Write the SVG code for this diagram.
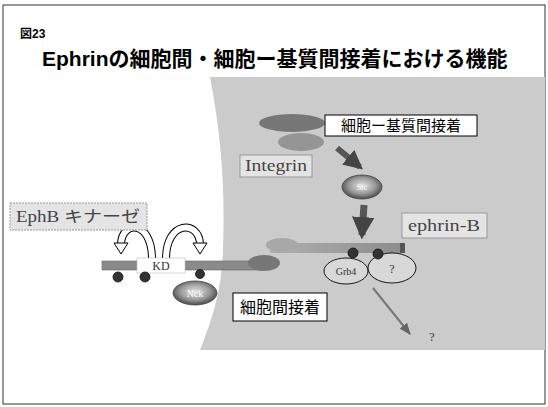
<svg xmlns="http://www.w3.org/2000/svg" width="548" height="407" viewBox="0 0 548 407">
  <defs>
    <radialGradient id="ballGrad" cx="50%" cy="45%" r="55%">
      <stop offset="0" stop-color="#e6e6e6"/>
      <stop offset="0.6" stop-color="#9a9a9a"/>
      <stop offset="1" stop-color="#4a4a4a"/>
    </radialGradient>
    <linearGradient id="ephrinBar" x1="0" y1="0" x2="1" y2="0">
      <stop offset="0" stop-color="#b0b0b0"/>
      <stop offset="1" stop-color="#8c8c8c"/>
    </linearGradient>
    <marker id="headDark" viewBox="0 0 10 10" refX="8" refY="5" markerWidth="3.2" markerHeight="3.2" orient="auto">
      <path d="M0,0 L10,5 L0,10 z" fill="#444"/>
    </marker>
    <marker id="headThin" viewBox="0 0 10 10" refX="9" refY="5" markerWidth="6" markerHeight="6" orient="auto">
      <path d="M0,1 L10,5 L0,9 z" fill="#666"/>
    </marker>
  </defs>
  <style>
    .jp { font-family: "Noto Sans CJK JP", "Noto Sans", sans-serif; }
    .title { font-family: "Liberation Sans", "Noto Sans CJK JP", sans-serif; font-weight: bold; fill: #000; }
    .serif { font-family: "Liberation Serif", "Noto Sans CJK JP", serif; fill: #444; }
    .box { fill: #fff; stroke: #000; stroke-width: 1; }
    .softbox { fill: #e4e4e4; stroke: #999; stroke-width: 1; }
    .dot { fill: #333; stroke: #111; stroke-width: 0.8; }
    .plain { fill: #d8d8d8; stroke: #000; stroke-width: 0.9; }
    .arch-out { fill: none; stroke: #000; stroke-width: 8; }
    .arch-in { fill: none; stroke: #fff; stroke-width: 6; }
    .arch-head { fill: #fff; stroke: #000; stroke-width: 1; }
  </style>

  <rect width="548" height="407" fill="#fff"/>
  <rect x="3" y="5" width="542" height="399" fill="none" stroke="#333" stroke-width="1"/>

  <!-- grey extracellular / cell region -->
  <path d="M210,77 L545,77 L545,350 L200,350 C212,320 222,290 223,250 C225,190 222,140 210,77 z" fill="#cbcbcb"/>

  <!-- headings -->
  <text class="title" x="20" y="38" font-size="12">図23</text>
  <text class="title" x="42" y="66" font-size="21">Ephrinの細胞間・細胞ー基質間接着における機能</text>

  <!-- connectors -->
  <g id="connectors">
    <line x1="337" y1="148" x2="360" y2="167" stroke="#555" stroke-width="6" marker-end="url(#headDark)"/>
    <line x1="364" y1="205" x2="362" y2="235" stroke="#555" stroke-width="7" marker-end="url(#headDark)"/>
    <line x1="373" y1="288" x2="410" y2="334" stroke="#777" stroke-width="2" marker-end="url(#headThin)"/>
    <!-- autophosphorylation arches -->
    <path class="arch-out" d="M152,259 C152,220 122,220 121,244"/>
    <path class="arch-in" d="M152,259 C152,220 122,220 121,244"/>
    <polygon class="arch-head" points="114,243 128,243 121,254"/>
    <path class="arch-out" d="M166,259 C166,220 199,220 200,244"/>
    <path class="arch-in" d="M166,259 C166,220 199,220 200,244"/>
    <polygon class="arch-head" points="193,243 207,243 200,254"/>
  </g>

  <!-- integrin -->
  <g id="integrin">
    <ellipse cx="292" cy="123" rx="33" ry="9" fill="#777"/>
    <ellipse cx="301" cy="142" rx="23" ry="9" fill="#959595"/>
    <rect class="softbox" x="240" y="155" width="72" height="22"/>
    <text class="serif" x="245" y="171" font-size="16" textLength="62" lengthAdjust="spacingAndGlyphs">Integrin</text>
  </g>

  <g id="label-matrix-adhesion">
    <rect class="box" x="325" y="115" width="152" height="21"/>
    <text class="jp" x="401" y="131" font-size="15" text-anchor="middle">細胞ー基質間接着</text>
  </g>

  <g id="src">
    <ellipse cx="362" cy="187" rx="20" ry="12" fill="url(#ballGrad)" stroke="#444" stroke-width="0.8"/>
    <text x="362" y="190" font-size="8" text-anchor="middle" font-family="Liberation Serif, serif" fill="#fff">Src</text>
  </g>

  <g id="ephrin-b">
    <rect x="270" y="243" width="134" height="10" fill="url(#ephrinBar)"/>
    <rect x="400" y="243" width="5" height="10" fill="#555"/>
    <ellipse cx="282" cy="245" rx="16" ry="7" fill="#a8a8a8"/>
    <rect class="softbox" x="402" y="213" width="85" height="25"/>
    <text class="serif" x="408" y="231" font-size="16" textLength="72" lengthAdjust="spacingAndGlyphs">ephrin-B</text>
  </g>

  <g id="ephb">
    <rect x="102" y="261" width="160" height="9" fill="#8a8a8a" stroke="#666" stroke-width="0.6"/>
    <ellipse cx="264" cy="263" rx="16" ry="8" fill="#777"/>
    <rect x="137" y="258" width="48" height="15" fill="#fff" stroke="#bbb" stroke-width="0.6"/>
    <text x="161" y="270" font-size="12" text-anchor="middle" font-family="Liberation Serif, serif" fill="#333">KD</text>
    <circle class="dot" cx="118" cy="277" r="5"/>
    <circle class="dot" cx="145" cy="277" r="5"/>
    <circle class="dot" cx="200" cy="274" r="4.5"/>
    <rect class="softbox" x="10" y="203" width="137" height="27" stroke-dasharray="2,1"/>
    <text class="serif" x="16" y="222" font-size="16" textLength="124" lengthAdjust="spacingAndGlyphs">EphB キナーゼ</text>
  </g>

  <g id="nck">
    <ellipse cx="195" cy="293" rx="22" ry="12" fill="url(#ballGrad)" stroke="#444" stroke-width="0.8"/>
    <text x="195" y="297" font-size="10" text-anchor="middle" font-family="Liberation Serif, serif" fill="#fff">Nck</text>
  </g>

  <g id="grb4">
    <ellipse class="plain" cx="346" cy="271" rx="22" ry="13"/>
    <text x="346" y="275" font-size="10" text-anchor="middle" font-family="Liberation Serif, serif" fill="#333">Grb4</text>
  </g>

  <g id="unknown-partner">
    <ellipse class="plain" cx="392" cy="268" rx="24" ry="15"/>
    <text x="392" y="273" font-size="12" text-anchor="middle" font-family="Liberation Serif, serif" fill="#333">?</text>
    <circle class="dot" cx="353" cy="253" r="5"/>
    <circle class="dot" cx="378" cy="254" r="5"/>
  </g>

  <g id="label-cell-adhesion">
    <rect class="box" x="233" y="293" width="94" height="28"/>
    <text class="jp" x="280" y="313" font-size="16" text-anchor="middle">細胞間接着</text>
  </g>

  <g id="downstream">
    <text x="432" y="341" font-size="12" text-anchor="middle" font-family="Liberation Serif, serif" fill="#333">?</text>
  </g>
</svg>
